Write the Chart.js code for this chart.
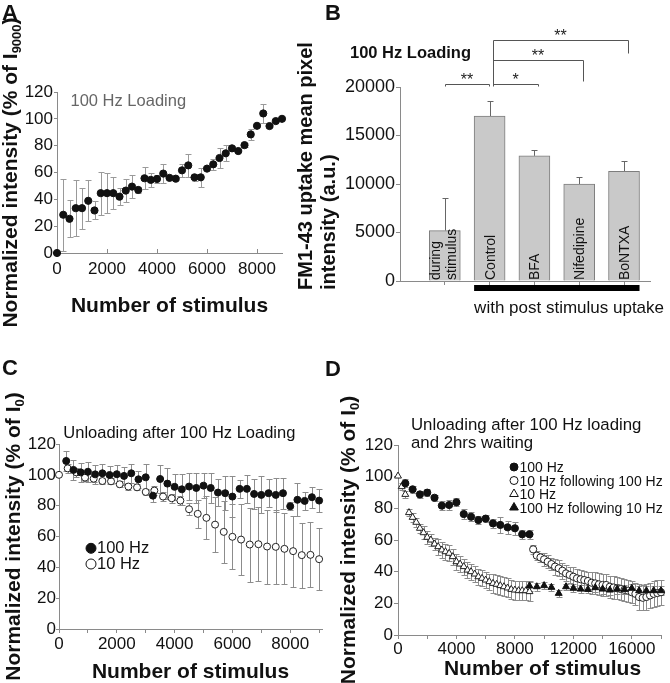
<!DOCTYPE html>
<html><head><meta charset="utf-8">
<script src="https://cdn.jsdelivr.net/npm/chart.js@4.4.1/dist/chart.umd.min.js"></script>
<style>
html,body{margin:0;padding:0;background:#fff;}
body{position:relative;width:670px;height:683px;overflow:hidden;}
canvas{position:absolute;display:block;}
</style></head>
<body>
<canvas id="cA" width="300" height="340" style="left:0px;top:0px;width:300px;height:340px"></canvas>
<canvas id="cB" width="380" height="340" style="left:290px;top:0px;width:380px;height:340px"></canvas>
<canvas id="cC" width="330" height="343" style="left:0px;top:340px;width:330px;height:343px"></canvas>
<canvas id="cD" width="350" height="343" style="left:320px;top:340px;width:350px;height:343px"></canvas>
<script>
// ---------- DATA ----------
// Panel A: 100 Hz loading
const aStim = [0,250,500,750,1000,1250,1500,1750,2000,2250,2500,2750,3000,3250,3500,3750,4000,4250,4500,4750,5000,5250,5500,5750,6000,6250,6500,6750,7000,7250,7500,7750,8000,8250,8500,8750,9000];
const aMean = [0,28.5,25.5,33.4,33.4,38.9,31.7,44.6,44.6,44.6,42,46.5,49.5,47,55.7,54.5,55.2,59.2,56,55.4,61.6,65.3,56.4,56.4,62.9,66.1,70.8,74.3,78,76,80.4,88.4,94.8,104,94.6,98.3,100];
const aErr  = [0,27,13.7,21,15.4,15.3,6.7,16,15,11.7,6.2,8.3,8.8,2,8.2,5,3,7.3,1,1,4.7,8.4,2.5,7,1,4.3,7.5,6,2,1,1.5,4.3,1,7.4,1,1,0];
const aXTicks = [0,2000,4000,6000,8000];
const aYTicks = [0,20,40,60,80,100,120];

// Panel B: FM1-43 uptake
const bCategories = [['during','stimulus'],['Control'],['BFA'],['Nifedipine'],['BoNTXA']];
const bMean = [5200,17000,12900,10000,11300];
const bErr  = [3400,1600,650,750,1100];
const bSigPairs  = [[0,1],[1,2],[1,3],[1,4]];
const bSigLabels = ['**','*','**','**'];
const bYTicks = [0,5000,10000,15000,20000];

// Panel C: unloading after 100 Hz loading
const cStim100 = [250,500,750,1000,1250,1500,1750,2000,2250,2500,2750,3000,3250,3500,3750,4000,4250,4500,4750,5000,5250,5500,5750,6000,6250,6500,6750,7000,7250,7500,7750,8000,8250,8500,8750,9000];
const cMean100 = [109,103.2,101.6,102,100.3,101,99.9,100.4,99.3,101,97.1,98.4,86.5,97.3,94.3,92.2,90.6,92.4,91.5,93,91.5,88.5,88.1,85.9,90.9,90.9,87.6,87,88.1,87,88.1,79.6,83.8,83.1,85.5,83.3];
const cErr100  = [6.7,6.4,6,6.5,6,6,5.7,6,6,6,5.4,8.5,4,9,10,8.4,10,9,9.6,8,9.6,8.6,11,13.3,5.8,9,10,12,9,11,10,2.5,10.7,5.7,6.8,7.2];
const cStim10 = [0,300,600,900,1200,1500,1800,2100,2400,2700,3000,3300,3600,3900,4200,4500,4800,5100,5400,5700,6000,6300,6600,6900,7200,7500,7800,8100,8400,8700,9000];
const cMean10 = [100,104.2,101.6,98.2,97.5,96,95.8,93.9,92.4,91.9,88.9,89.8,85.9,84.8,83.3,77.7,74.7,72.1,67.7,63,59.8,58,54.8,55,53.5,53.3,52,50.5,47.9,48.1,45.3];
const cErr10  = [0,3,3,2,2,2,2,2,2,2,2,3,3,3,3,4,9,14,18,20,21,23,24,24,24,24,23,23,21,21,20];
const cXTicks = [0,1000,2000,3000,4000,5000,6000,7000,8000,9000];
const cXLabels = ['0','','2000','','4000','','6000','','8000',''];

// Panel D: unloading after 100 Hz loading and 2 hrs waiting
const dStim100 = [500,1000,1500,2000,2500,3000,3500,4000,4500,5000,5500,6000,6500,7000,7500,8000,8500,9000];
const dMean100 = [95.8,92,88.8,89.9,86.7,81.7,82.1,83.8,76.4,74.7,72.6,73.5,70.5,69.5,68,67.4,63.6,63.6];
const dErr100  = [2.5,2,2,2,2,3,3,2.5,3,3,2.5,2,3,5,4,4,3,3];
const dStim10f = [9250,9500,9750,10000,10250,10500,10750,11000,11250,11500,11750,12000,12250,12500,12750,13000,13250,13500,13750,14000,14250,14500,14750,15000,15250,15500,15750,16000,16250,16500,16750,17000,17250,17500,17750,18000];
const dMean10f = [54.1,50.1,49,47.8,46.3,44.8,43.2,42.1,40.6,38.9,37.9,36.8,35.8,35.2,34.7,34.1,33,32.6,32,31.6,31.6,30.5,30,29.5,29,28.5,28,27,26,24,23.5,24,25,26,26.5,27];
const dErr10f  = [3,3,3,4,4,4,5,5,5,5,5,6,6,6,6,6,7,7,7,7,7,7,7,7,7,7,7,7,7,8,8,8,8,8,8,8];
const dStim10 = [0,250,500,750,1000,1250,1500,1750,2000,2250,2500,2750,3000,3250,3500,3750,4000,4250,4500,4750,5000,5250,5500,5750,6000,6250,6500,6750,7000,7250,7500,7750,8000,8250,8500,8750,9000];
const dMean10 = [100.4,93.7,88.8,77.3,74.3,71.2,67.4,64.6,61.7,60,57.5,55.8,53.7,52.6,51.6,49.5,46.3,44.8,43.2,41,40,38.5,36.8,35.8,34.7,33.7,32.6,32,31.2,30.5,29.7,28.8,28.4,28,28,28,27.4];
const dErr10  = [0,2,2,2,3,3,3,4,4,4,4,5,5,5,5,5,5,5,5,5,5,5,5,5,5,5,6,6,6,6,6,6,6,6,6,6,6];
const dStim100f = [9000,9500,10000,10500,11000,11500,12000,12500,13000,13500,14000,14500,15000,15500,16000,16500,17000,17500,18000];
const dMean100f = [31,30.5,31.2,30.1,26.3,30.5,29.5,29,28.8,29.9,29,28.4,29,28.8,29.5,28,28,28,28];
const dErr100f  = [3,2.5,2,2,2,2,2.5,2.5,2.5,3,3,3,3,3,3,3,3,3,3];
const dXTicks = [0,2000,4000,6000,8000,10000,12000,14000,16000,18000];
const dXLabels = ['0','','4000','','8000','','12000','','16000',''];

// ---------- HELPERS ----------
const FONT = "'Liberation Sans', Arial, Helvetica, sans-serif";
const NARROW = "'Liberation Sans Narrow', 'Liberation Sans', Arial, sans-serif";
Chart.defaults.font.family = FONT;
Chart.defaults.color = '#111';
const AXIS = '#8a8a8a';

const pts = (xs, ys) => xs.map((x, i) => ({x: x, y: ys[i]}));
const setTicks = vals => (s => { s.ticks = vals.map(v => ({value: v})); });
const labelFrom = (vals, labels) => (v => { const i = vals.indexOf(v); return i < 0 ? '' : labels[i]; });

const errorBarPlugin = {
  id: 'errorBars',
  beforeDatasetsDraw(chart) {
    const ctx = chart.ctx, ys = chart.scales.y;
    chart.data.datasets.forEach((ds, i) => {
      if (!ds.errors) return;
      const meta = chart.getDatasetMeta(i);
      ctx.save();
      ctx.strokeStyle = ds.errorColor || '#8c8c8c';
      ctx.lineWidth = 1;
      const cap = ds.errorCap || 3;
      meta.data.forEach((el, j) => {
        const e = ds.errors[j];
        if (!e) return;
        const v = ds.data[j].y;
        const x = Math.round(el.x) + 0.5;
        const yTop = Math.round(ys.getPixelForValue(v + e)) + 0.5;
        const yBot = ds.errorUpOnly ? el.y : Math.round(ys.getPixelForValue(v - e)) + 0.5;
        ctx.beginPath();
        ctx.moveTo(x, yTop); ctx.lineTo(x, yBot);
        ctx.moveTo(x - cap, yTop); ctx.lineTo(x + cap, yTop);
        if (!ds.errorUpOnly) { ctx.moveTo(x - cap, yBot); ctx.lineTo(x + cap, yBot); }
        ctx.stroke();
      });
      ctx.restore();
    });
  }
};

function text(ctx, str, x, y, size, opts) {
  opts = opts || {};
  ctx.save();
  ctx.font = (opts.bold ? 'bold ' : '') + size + 'px ' + FONT;
  ctx.fillStyle = opts.color || '#111';
  ctx.textAlign = opts.align || 'left';
  ctx.textBaseline = 'alphabetic';
  ctx.fillText(str, x, y);
  ctx.restore();
}
function vtext(ctx, parts, x, y, size, opts) {
  opts = opts || {};
  ctx.save();
  ctx.translate(x, y);
  ctx.rotate(-Math.PI / 2);
  ctx.fillStyle = opts.color || '#111';
  ctx.textAlign = 'left';
  ctx.textBaseline = 'alphabetic';
  const f = sub => (opts.bold ? 'bold ' : '') + (sub ? size * 0.62 : size) + 'px ' + FONT;
  let total = 0;
  parts.forEach(p => { ctx.font = f(p[1]); total += ctx.measureText(p[0]).width; });
  let cx = opts.align === 'center' ? -total / 2 : 0;
  parts.forEach(p => {
    ctx.font = f(p[1]);
    ctx.fillText(p[0], cx, p[1] ? size * 0.2 : 0);
    cx += ctx.measureText(p[0]).width;
  });
  ctx.restore();
}
function marker(ctx, style, filled, x, y, r) {
  ctx.save();
  ctx.lineWidth = 1; ctx.strokeStyle = '#111'; ctx.fillStyle = filled ? '#111' : '#fff';
  ctx.beginPath();
  if (style === 'circle') ctx.arc(x, y, r, 0, Math.PI * 2);
  else { ctx.moveTo(x, y - r); ctx.lineTo(x + r * 0.866, y + r * 0.5); ctx.lineTo(x - r * 0.866, y + r * 0.5); ctx.closePath(); }
  ctx.fill(); ctx.stroke();
  ctx.restore();
}

function baseOptions(W, H, area, xs, ys) {
  return {
    responsive: false, animation: false, devicePixelRatio: 1, events: [],
    layout: {padding: {left: 0, top: area.t, right: W - area.r, bottom: 0}},
    plugins: {legend: {display: false}, tooltip: {enabled: false}, title: {display: false}},
    scales: {
      x: Object.assign({type: 'linear', afterFit(s) { s.height = H - area.b; }}, xs),
      y: Object.assign({type: 'linear', afterFit(s) { s.width = area.l; }}, ys)
    }
  };
}
const num = v => String(v);
const yAxis120 = (font, tl, pad) => ({
  min: 0, max: 120, afterBuildTicks: setTicks(aYTicks),
  ticks: {padding: pad, font: font, color: '#111', callback: num},
  grid: {drawOnChartArea: false, tickLength: tl, color: AXIS}, border: {color: AXIS}
});

// ---------- PANEL A ----------
(function () {
  const W = 300, H = 340, area = {l: 57, t: 92, r: 282, b: 253};
  const deco = {
    id: 'decoA',
    afterDraw(chart) {
      const ctx = chart.ctx, ca = chart.chartArea;
      text(ctx, 'A', 2, 20, 22, {bold: true});
      vtext(ctx, [['Normalized intensity (% of I', 0], ['9000', 1], [')', 0]], 17, (ca.top + ca.bottom) / 2, 21, {bold: true, align: 'center'});
      text(ctx, 'Number of stimulus', (ca.left + ca.right) / 2, 312, 21, {bold: true, align: 'center'});
      text(ctx, '100 Hz Loading', 70.5, 106, 16.5, {color: '#666'});
    }
  };
  new Chart(document.getElementById('cA'), {
    type: 'scatter',
    data: {datasets: [{
      data: pts(aStim, aMean), errors: aErr, errorColor: '#9a9a9a',
      pointRadius: 3.6, pointBackgroundColor: '#111', pointBorderColor: '#111', pointBorderWidth: 1, clip: false
    }]},
    options: baseOptions(W, H, area,
      {min: 0, max: 9000, afterBuildTicks: setTicks(aXTicks),
       ticks: {autoSkip: false, maxRotation: 0, padding: 10, font: {size: 17}, color: '#111', callback: num},
       grid: {drawOnChartArea: false, tickLength: -4, color: AXIS}, border: {color: AXIS}},
      yAxis120({size: 17, family: NARROW}, 3, 1)),
    plugins: [errorBarPlugin, deco]
  });
})();

// ---------- PANEL B ----------
(function () {
  const W = 380, H = 340, area = {l: 110, t: 87, r: 360, b: 281};
  const deco = {
    id: 'decoB',
    afterDraw(chart) {
      const ctx = chart.ctx, ca = chart.chartArea, xs = chart.scales.x, ys = chart.scales.y;
      const meta = chart.getDatasetMeta(0);
      text(ctx, 'B', 35, 20, 22, {bold: true});
      vtext(ctx, [['FM1-43 uptake mean pixel', 0]], 22, 290, 20, {bold: true});
      vtext(ctx, [['intensity (a.u.)', 0]], 45, 290, 20, {bold: true});
      text(ctx, '100 Hz Loading', 60, 58, 16.5, {bold: true});
      meta.data.forEach((bar, i) => {
        const lines = bCategories[i];
        ctx.save();
        ctx.fillStyle = '#111';
        ctx.font = '14px ' + FONT;
        ctx.translate(bar.x, ca.bottom - 1);
        ctx.rotate(-Math.PI / 2);
        ctx.textAlign = 'left'; ctx.textBaseline = 'alphabetic';
        if (lines.length === 1) ctx.fillText(lines[0], 0, 5);
        else { ctx.fillText(lines[0], 0, -4.5); ctx.fillText(lines[1], 0, 11.5); }
        ctx.restore();
      });
      const b1 = meta.data[1], b4 = meta.data[4];
      const x1 = b1.x - b1.width / 2, x2 = b4.x + b4.width / 2;
      ctx.fillStyle = '#000';
      ctx.fillRect(x1, ca.bottom + 4, x2 - x1, 6);
      text(ctx, 'with post stimulus uptake', x1, 313, 17);
      const px = v => Math.round(xs.getPixelForValue(v)) + 0.5;
      const py = v => Math.round(ys.getPixelForValue(v)) + 0.5;
      const levels = [20350, 20350, 22750, 24800];
      const drops = [20150, 20150, 20580, 23464];
      ctx.save();
      ctx.strokeStyle = '#555'; ctx.lineWidth = 1;
      bSigPairs.forEach((p, k) => {
        const xa = p[0] === 1 ? 1.08 : p[0];
        const xb = p[0] === 1 ? p[1] + 0.08 : p[1] - 0.01;
        ctx.beginPath();
        if (p[0] !== 1) { ctx.moveTo(px(xa), py(drops[k])); ctx.lineTo(px(xa), py(levels[k])); }
        else ctx.moveTo(px(xa), py(levels[k]));
        ctx.lineTo(px(xb), py(levels[k]));
        ctx.lineTo(px(xb), py(drops[k]));
        ctx.stroke();
        text(ctx, bSigLabels[k], (xs.getPixelForValue(xa) + xs.getPixelForValue(xb)) / 2, ys.getPixelForValue(levels[k]) + 1, 16, {align: 'center', color: '#222'});
      });
      ctx.beginPath();
      ctx.moveTo(px(1.08), py(24800)); ctx.lineTo(px(1.08), py(20150));
      ctx.stroke();
      ctx.restore();
    }
  };
  new Chart(document.getElementById('cB'), {
    type: 'bar',
    data: {datasets: [{
      data: pts(bCategories.map((c, i) => i), bMean), errors: bErr, errorUpOnly: true, errorColor: '#666', errorCap: 3,
      backgroundColor: '#c9c9c9', borderColor: '#7d7d7d', borderWidth: 1, barThickness: 31
    }]},
    options: baseOptions(W, H, area,
      {min: -1, max: 4.58, offset: false, afterBuildTicks: setTicks(bCategories.map((c, i) => i)),
       ticks: {callback: () => '', autoSkip: false, maxRotation: 0, padding: 0, font: {size: 10}},
       grid: {drawOnChartArea: false, tickLength: 4, color: AXIS, offset: false}, border: {color: AXIS}},
      {min: 0, max: 20000, afterBuildTicks: setTicks(bYTicks),
       ticks: {padding: 1, font: {size: 18}, color: '#111', callback: num},
       grid: {drawOnChartArea: false, tickLength: 4, color: AXIS}, border: {color: AXIS}}),
    plugins: [errorBarPlugin, deco]
  });
})();

// ---------- PANEL C ----------
(function () {
  const W = 330, H = 343, area = {l: 59, t: 104, r: 322, b: 289};
  const deco = {
    id: 'decoC',
    afterDraw(chart) {
      const ctx = chart.ctx, ca = chart.chartArea;
      text(ctx, 'C', 2, 35, 22, {bold: true});
      vtext(ctx, [['Normalized intensity (% of I', 0], ['0', 1], [')', 0]], 19.5, (ca.top + ca.bottom) / 2, 21, {bold: true, align: 'center'});
      text(ctx, 'Number of stimulus', (ca.left + ca.right) / 2, 338, 21, {bold: true, align: 'center'});
      text(ctx, 'Unloading after 100 Hz Loading', 63.3, 98, 16.5);
      const ds = chart.data.datasets;
      marker(ctx, 'circle', true, 91, 208.3, 5);
      text(ctx, ds[0].label, 97, 213.3, 16.5);
      marker(ctx, 'circle', false, 91, 224, 5);
      text(ctx, ds[1].label, 97, 229.3, 16.5);
    }
  };
  new Chart(document.getElementById('cC'), {
    type: 'scatter',
    data: {datasets: [
      {label: '100 Hz', data: pts(cStim100, cMean100), errors: cErr100,
       pointRadius: 3.5, pointBackgroundColor: '#111', pointBorderColor: '#111', pointBorderWidth: 1, clip: false},
      {label: '10 Hz', data: pts(cStim10, cMean10), errors: cErr10,
       pointRadius: 3.5, pointBackgroundColor: '#fff', pointBorderColor: '#222', pointBorderWidth: 1, clip: false}
    ]},
    options: baseOptions(W, H, area,
      {min: 0, max: 9100, afterBuildTicks: setTicks(cXTicks),
       ticks: {autoSkip: false, maxRotation: 0, padding: 1, font: {size: 17}, color: '#111', callback: labelFrom(cXTicks, cXLabels)},
       grid: {drawOnChartArea: false, tickLength: 4, color: AXIS}, border: {color: AXIS}},
      yAxis120({size: 17, family: NARROW}, 3, 0)),
    plugins: [errorBarPlugin, deco]
  });
})();

// ---------- PANEL D ----------
(function () {
  const W = 350, H = 343, area = {l: 78, t: 105, r: 341, b: 295};
  const legendOrder = [0, 2, 3, 1];
  const deco = {
    id: 'decoD',
    afterDraw(chart) {
      const ctx = chart.ctx, ca = chart.chartArea;
      text(ctx, 'D', 5, 36, 22, {bold: true});
      vtext(ctx, [['Normalized intensity (% of I', 0], ['0', 1], [')', 0]], 35, (ca.top + ca.bottom) / 2, 21, {bold: true, align: 'center'});
      text(ctx, 'Number of stimulus', 222.5, 335, 21, {bold: true, align: 'center'});
      text(ctx, 'Unloading after 100 Hz loading', 91, 90, 16.8);
      text(ctx, 'and 2hrs waiting', 91, 107.5, 16.8);
      const ds = chart.data.datasets;
      legendOrder.forEach((di, k) => {
        const d = ds[di];
        const base = 132 + k * 13.5;
        marker(ctx, d.pointStyle, d.pointBackgroundColor !== '#fff', 194, base - 5, d.pointStyle === 'circle' ? 4 : 5);
        text(ctx, d.label, 199.5, base, 14);
      });
    }
  };
  new Chart(document.getElementById('cD'), {
    type: 'scatter',
    data: {datasets: [
      {label: '100 Hz', data: pts(dStim100, dMean100), errors: dErr100, pointStyle: 'circle',
       pointRadius: 3.6, pointBackgroundColor: '#111', pointBorderColor: '#111', pointBorderWidth: 1, clip: false},
      {label: '100 Hz following 10 Hz', data: pts(dStim100f, dMean100f), errors: dErr100f, pointStyle: 'triangle',
       pointRadius: 4, pointBackgroundColor: '#111', pointBorderColor: '#111', pointBorderWidth: 1, clip: false},
      {label: '10 Hz following 100 Hz', data: pts(dStim10f, dMean10f), errors: dErr10f, pointStyle: 'circle',
       pointRadius: 3.6, pointBackgroundColor: '#fff', pointBorderColor: '#222', pointBorderWidth: 1, clip: false},
      {label: '10 Hz', data: pts(dStim10, dMean10), errors: dErr10, pointStyle: 'triangle',
       pointRadius: 4, pointBackgroundColor: '#fff', pointBorderColor: '#222', pointBorderWidth: 1, clip: false}
    ]},
    options: baseOptions(W, H, area,
      {min: 0, max: 18000, afterBuildTicks: setTicks(dXTicks),
       ticks: {autoSkip: false, maxRotation: 0, padding: 0, font: {size: 17}, color: '#111', callback: labelFrom(dXTicks, dXLabels)},
       grid: {drawOnChartArea: false, tickLength: 4, color: AXIS}, border: {color: AXIS}},
      yAxis120({size: 17, family: NARROW}, 4, 1)),
    plugins: [errorBarPlugin, deco]
  });
})();
</script>
</body></html>
